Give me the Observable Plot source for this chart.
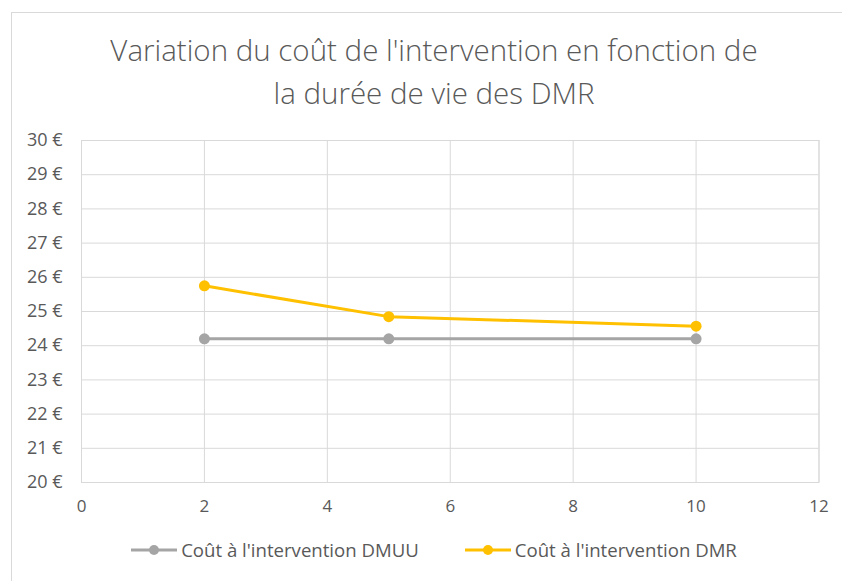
<!DOCTYPE html>
<html>
<head>
<meta charset="utf-8">
<script src="https://cdn.jsdelivr.net/npm/d3@7"></script>
<script src="https://cdn.jsdelivr.net/npm/@observablehq/plot@0.6"></script>
<style>
  html, body { margin: 0; padding: 0; background: #fff; }
  body { width: 842px; height: 581px; position: relative; overflow: hidden; font-family: "Open Sans", sans-serif; }
  #frame { position: absolute; left: 11px; top: 12px; width: 900px; height: 700px; border-left: 1px solid #d9d9d9; border-top: 1px solid #d9d9d9; }
  #title { position: absolute; left: 0; width: 868px; top: 28px; text-align: center; color: #595959; font-family: "Open Sans", sans-serif; font-weight: 300; font-size: 29.5px; line-height: 43px; }
  #chart { position: absolute; left: 0; top: 120px; width: 842px; }
  #legend { position: absolute; top: 537px; left: 0; width: 868px; display: flex; justify-content: center; gap: 46px; color: #595959; font-size: 18.6px; font-family: "Open Sans", sans-serif; }
  .item { display: flex; align-items: center; gap: 4px; }
</style>
</head>
<body>
<div id="frame"></div>
<div id="title">Variation du coût de l'intervention en fonction de<br>la durée de vie des DMR</div>
<div id="chart"></div>
<div id="legend"></div>
<script>
const durees = [2, 5, 10];
const coutDMUU = [24.2, 24.2, 24.2];
const coutDMR = [25.75, 24.85, 24.57];
const seriesNames = ["Coût à l'intervention DMUU", "Coût à l'intervention DMR"];
const seriesColors = ["#a5a5a5", "#ffc000"];
const xTicks = [0, 2, 4, 6, 8, 10, 12];
const yTicks = [20, 21, 22, 23, 24, 25, 26, 27, 28, 29, 30];

const data = [
  ...durees.map((d, i) => ({x: d, y: coutDMUU[i], s: seriesNames[0]})),
  ...durees.map((d, i) => ({x: d, y: coutDMR[i], s: seriesNames[1]}))
];

const chart = Plot.plot({
  width: 842,
  height: 420,
  marginLeft: 81,
  marginRight: 23.5,
  marginTop: 20,
  marginBottom: 58,
  style: {fontFamily: "Open Sans, sans-serif", color: "#595959", background: "transparent"},
  x: {domain: [0, 12], ticks: xTicks, tickSize: 0, tickPadding: 17, label: null},
  y: {domain: [20, 30], ticks: yTicks, tickSize: 0, tickPadding: 19, label: null, tickFormat: d => `${d} €`},
  color: {domain: seriesNames, range: seriesColors},
  marks: [
    Plot.gridX(xTicks, {stroke: "#d9d9d9", strokeOpacity: 1, strokeWidth: 1}),
    Plot.gridY(yTicks, {stroke: "#d9d9d9", strokeOpacity: 1, strokeWidth: 1}),
    Plot.frame({stroke: "#d9d9d9", strokeWidth: 1}),
    Plot.axisX({ticks: xTicks, tickSize: 0, tickPadding: 17, fontSize: 17, fill: "#595959"}),
    Plot.axisY({ticks: yTicks, tickSize: 0, tickPadding: 19, fontSize: 18, fill: "#595959", tickFormat: d => `${d} €`}),
    Plot.line(data, {x: "x", y: "y", z: "s", stroke: "s", strokeWidth: 3}),
    Plot.dot(data, {x: "x", y: "y", fill: "s", r: 5.5})
  ]
});
document.getElementById("chart").appendChild(chart);

const legend = document.getElementById("legend");
seriesNames.forEach((name, i) => {
  const item = document.createElement("div");
  item.className = "item";
  item.innerHTML = `<svg width="46" height="12"><line x1="0" y1="6" x2="46" y2="6" stroke="${seriesColors[i]}" stroke-width="3"/><circle cx="23" cy="6" r="5" fill="${seriesColors[i]}"/></svg><span>${name}</span>`;
  legend.appendChild(item);
});
</script>
</body>
</html>
